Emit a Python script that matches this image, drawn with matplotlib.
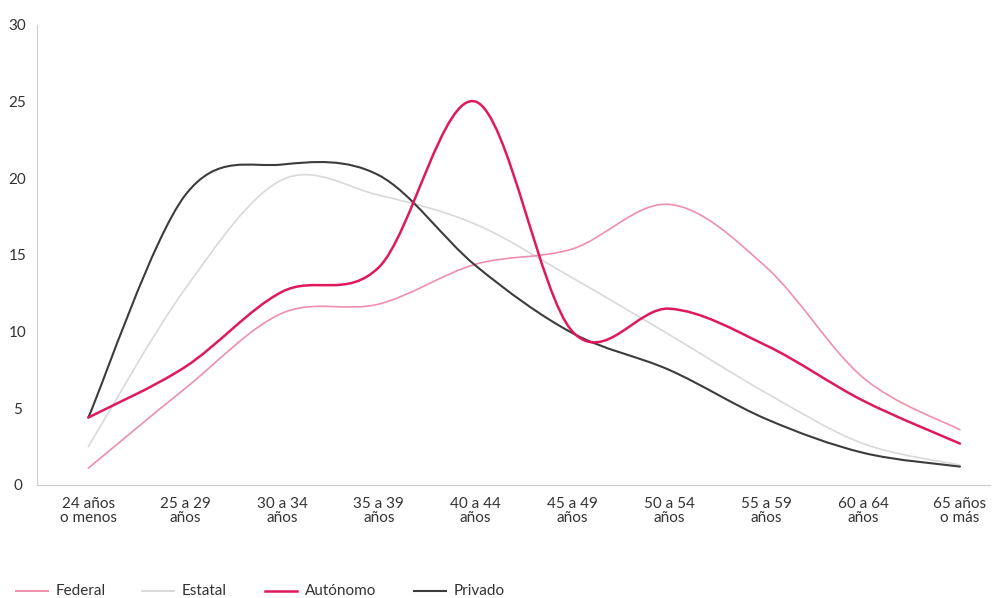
"""Distribution by age group and sector (smoothed lines)."""

import matplotlib
matplotlib.use("Agg")
import matplotlib.pyplot as plt
from matplotlib.path import Path
from matplotlib.patches import PathPatch
from matplotlib.lines import Line2D

plt.rcParams["font.family"] = ["Lato", "DejaVu Sans"]

categories = ["24 años\no menos", "25 a 29\naños", "30 a 34\naños", "35 a 39\naños",
              "40 a 44\naños", "45 a 49\naños", "50 a 54\naños", "55 a 59\naños",
              "60 a 64\naños", "65 años\no más"]
federal = [1.1, 6.3, 11.2, 11.8, 14.4, 15.4, 18.3, 14.2, 7.0, 3.6]
estatal = [2.5, 12.8, 19.9, 18.9, 17.0, 13.5, 9.8, 6.0, 2.7, 1.3]
autonomo = [4.4, 7.7, 12.6, 14.2, 25.0, 10.0, 11.5, 9.1, 5.5, 2.7]
privado = [4.4, 18.9, 20.9, 20.2, 14.3, 9.9, 7.5, 4.3, 2.1, 1.2]

series_names = ["Federal", "Estatal", "Autónomo", "Privado"]
series_values = [federal, estatal, autonomo, privado]
series_colors = ["#ee8fab", "#d9d9d9", "#e0185c", "#3c3c3c"]
series_widths = [1.2, 1.2, 1.8, 1.5]
draw_order = [1, 0, 3, 2]


def smooth_path(xs, ys):
    """Bezier path through the points, like a spreadsheet 'smoothed line'."""
    pts = list(zip(xs, ys))
    verts = [pts[0]]
    codes = [Path.MOVETO]
    n = len(pts)
    for i in range(n - 1):
        p0 = pts[max(i - 1, 0)]
        p1 = pts[i]
        p2 = pts[i + 1]
        p3 = pts[min(i + 2, n - 1)]
        c1 = (p1[0] + (p2[0] - p0[0]) / 6, p1[1] + (p2[1] - p0[1]) / 6)
        c2 = (p2[0] - (p3[0] - p1[0]) / 6, p2[1] - (p3[1] - p1[1]) / 6)
        verts += [c1, c2, p2]
        codes += [Path.CURVE4] * 3
    return Path(verts, codes)


fig = plt.figure(figsize=(9.98, 5.98), dpi=100)
ax = fig.add_axes([37 / 998, 1 - 485 / 598, (990 - 37) / 998, (485 - 25) / 598])

x = list(range(len(categories)))
for i in draw_order:
    patch = PathPatch(smooth_path(x, series_values[i]), facecolor="none",
                      edgecolor=series_colors[i], lw=series_widths[i],
                      capstyle="round", joinstyle="round")
    ax.add_patch(patch)

ax.set_xlim(-0.53, 9.31)
ax.set_ylim(0, 30)
ax.set_yticks([0, 5, 10, 15, 20, 25, 30])
ax.set_xticks(x)
ax.set_xticklabels(categories, linespacing=1.0)
ax.tick_params(axis="both", length=0, labelsize=11, colors="#333333")
ax.tick_params(axis="x", pad=9)
ax.tick_params(axis="y", pad=14)
for lab in ax.get_yticklabels():
    lab.set_horizontalalignment("center")

for side in ["top", "right"]:
    ax.spines[side].set_visible(False)
ax.spines["left"].set_color("#cccccc")
ax.spines["bottom"].set_color("#cccccc")
ax.spines["left"].set_linewidth(0.8)
ax.spines["bottom"].set_linewidth(0.8)

# legend drawn by hand along the bottom
leg_y = 1 - 591 / 598
line_x = [16, 142, 265, 414]
for name, color, lw, lx in zip(series_names, series_colors, series_widths, line_x):
    fig.add_artist(Line2D([lx / 998, (lx + 32) / 998], [leg_y, leg_y],
                          color=color, lw=max(lw, 1.4), transform=fig.transFigure))
    fig.text((lx + 40) / 998, leg_y, name, fontsize=11, color="#333333",
             va="center", ha="left")

fig.savefig("out.png", dpi=100)
